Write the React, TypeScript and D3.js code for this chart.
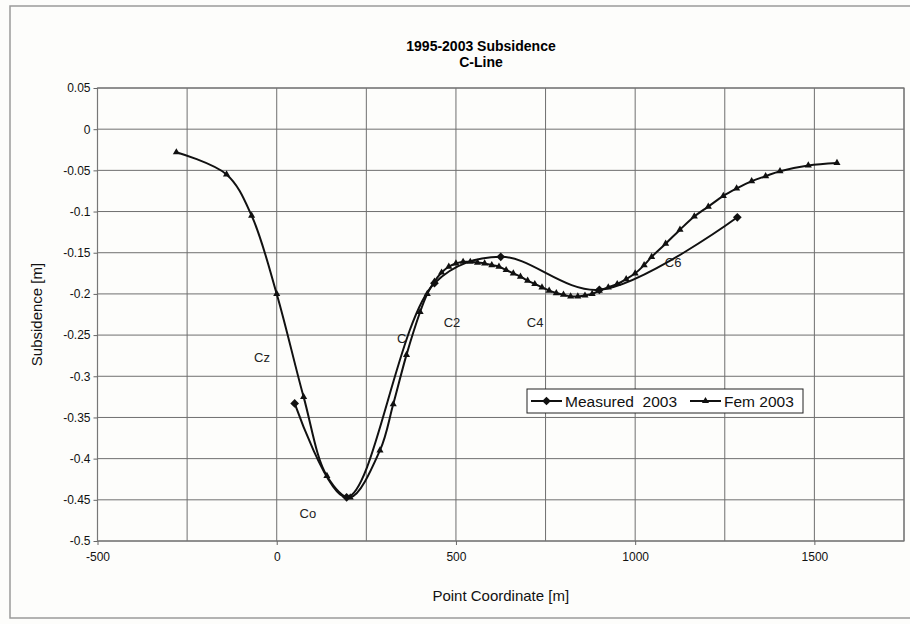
import React from 'react';
import * as d3 from 'd3';

// axis ticks
const xTickValues = [-500, 0, 500, 1000, 1500];
const xGridValues = [-500, -250, 0, 250, 500, 750, 1000, 1250, 1500, 1750];
const yTickValues = [0.05, 0, -0.05, -0.1, -0.15, -0.2, -0.25, -0.3, -0.35, -0.4, -0.45, -0.5];

// Measured 2003 (diamonds)
const measuredX = [50, 195, 440, 625, 900, 1285];
const measuredY = [-0.333, -0.447, -0.187, -0.155, -0.195, -0.107];

// Fem 2003 (triangles)
const femX = [
	-280, -140, -70, 0, 75, 140, 205, 288, 325, 362, 400, 420, 440, 460, 480, 500, 520, 540, 560, 580, 600, 620, 640,
	660, 680, 700, 720, 740, 760, 780, 800, 820, 840, 860, 880, 900, 925, 950, 975, 1000, 1025, 1046, 1085, 1125, 1165,
	1204, 1246, 1283, 1325, 1364, 1404, 1483, 1563,
];
const femY = [
	-0.028, -0.055, -0.105, -0.2, -0.325, -0.421, -0.447, -0.39, -0.334, -0.274, -0.222, -0.2, -0.185, -0.174, -0.167,
	-0.163, -0.161, -0.161, -0.162, -0.163, -0.165, -0.167, -0.171, -0.175, -0.179, -0.184, -0.188, -0.192, -0.196,
	-0.199, -0.201, -0.203, -0.203, -0.202, -0.2, -0.196, -0.192, -0.188, -0.182, -0.175, -0.165, -0.155, -0.139,
	-0.122, -0.106, -0.094, -0.081, -0.072, -0.063, -0.057, -0.051, -0.044, -0.041,
];

// point names written on the chart
const pointNames = ['Cz', 'C', 'C2', 'C4', 'C6', 'Co'];
const pointNameX = [-41, 349, 489, 721, 1106, 87];
const pointNameY = [-0.277, -0.254, -0.235, -0.235, -0.162, -0.466];

const seriesNames = ['Measured  2003', 'Fem 2003'];

class SubsidenceChart extends React.Component<any> {
	node: SVGSVGElement | null = null;
	constructor(props: any) {
		super(props);
		this.drawChart = this.drawChart.bind(this);
	}
	componentDidMount() {
		this.drawChart();
	}
	componentDidUpdate() {
		this.drawChart();
	}
	drawChart() {
		const width = 910;
		const height = 624;
		const plot = { left: 97.5, right: 904, top: 88, bottom: 541 };
		const svg = d3.select(this.node).style('font-family', '"Liberation Sans", Arial, sans-serif');
		svg.selectAll('*').remove();

		const xScale = d3.scaleLinear().domain([-500, 1750]).range([plot.left, plot.right]);
		const yScale = d3.scaleLinear().domain([-0.5, 0.05]).range([plot.bottom, plot.top]);

		svg.append('rect').attr('width', width).attr('height', height).attr('fill', '#fdfdfb');
		// chart frame
		svg
			.append('rect')
			.attr('x', 10)
			.attr('y', 6)
			.attr('width', 910)
			.attr('height', 612)
			.attr('fill', 'none')
			.attr('stroke', '#9a9a9a')
			.attr('stroke-width', 1.5);

		// title
		svg
			.append('text')
			.attr('x', 481)
			.attr('y', 51)
			.attr('text-anchor', 'middle')
			.attr('font-size', 14)
			.attr('font-weight', 'bold')
			.text('1995-2003 Subsidence');
		svg
			.append('text')
			.attr('x', 481)
			.attr('y', 67)
			.attr('text-anchor', 'middle')
			.attr('font-size', 14)
			.attr('font-weight', 'bold')
			.text('C-Line');

		const g = svg.append('g');
		// gridlines
		g.selectAll('.vgrid')
			.data(xGridValues)
			.enter()
			.append('line')
			.attr('x1', d => xScale(d))
			.attr('x2', d => xScale(d))
			.attr('y1', plot.top)
			.attr('y2', plot.bottom)
			.attr('stroke', '#6f6f6f')
			.attr('stroke-width', 1);
		g.selectAll('.hgrid')
			.data(yTickValues)
			.enter()
			.append('line')
			.attr('x1', plot.left)
			.attr('x2', plot.right)
			.attr('y1', d => yScale(d))
			.attr('y2', d => yScale(d))
			.attr('stroke', '#6f6f6f')
			.attr('stroke-width', 1);
		g.append('rect')
			.attr('x', plot.left)
			.attr('y', plot.top)
			.attr('width', plot.right - plot.left)
			.attr('height', plot.bottom - plot.top)
			.attr('fill', 'none')
			.attr('stroke', '#777')
			.attr('stroke-width', 1.2);

		// axes
		const yAxis = d3
			.axisLeft(yScale)
			.tickValues(yTickValues)
			.tickSize(4)
			.tickFormat(d => String(+(+d).toFixed(2)));
		const ya = svg.append('g').attr('transform', `translate(${plot.left},0)`).call(yAxis);
		const xAxis = d3
			.axisBottom(xScale)
			.tickValues(xTickValues)
			.tickSize(4)
			.tickFormat(d => String(d));
		const xa = svg.append('g').attr('transform', `translate(0,${plot.bottom})`).call(xAxis);
		[ya, xa].forEach(a => {
			a.select('.domain').remove();
			a.selectAll('line').attr('stroke', '#666');
			a.selectAll('text').attr('font-size', 12).attr('fill', '#111').attr('font-family', null);
		});
		xa.selectAll('text').attr('dy', '1.1em');

		svg
			.append('text')
			.attr('x', (plot.left + plot.right) / 2)
			.attr('y', 601)
			.attr('text-anchor', 'middle')
			.attr('font-size', 15)
			.attr('fill', '#111')
			.text('Point Coordinate [m]');
		svg
			.append('text')
			.attr('transform', `translate(42,${(plot.top + plot.bottom) / 2}) rotate(-90)`)
			.attr('text-anchor', 'middle')
			.attr('font-size', 15)
			.attr('fill', '#111')
			.text('Subsidence [m]');

		// point names
		g.selectAll('.pname')
			.data(pointNames)
			.enter()
			.append('text')
			.attr('x', (d, i) => xScale(pointNameX[i]))
			.attr('y', (d, i) => yScale(pointNameY[i]))
			.attr('dy', '0.35em')
			.attr('text-anchor', 'middle')
			.attr('font-size', 13)
			.attr('fill', '#222')
			.text(d => d);

		const makeLine = d3
			.line<number>()
			.x(d => d)
			.y(d => d)
			.curve(d3.curveCatmullRom);
		const linePath = d3
			.line<[number, number]>()
			.x(d => xScale(d[0]))
			.y(d => yScale(d[1]))
			.curve(d3.curveCatmullRom);
		void makeLine;

		const measured: [number, number][] = measuredX.map((x, i) => [x, measuredY[i]]);
		const fem: [number, number][] = femX.map((x, i) => [x, femY[i]]);

		const diamond = d3.symbol(d3.symbolSquare, 38)();
		const triangle = d3.symbol(d3.symbolTriangle, 22)();

		[fem, measured].forEach(data => {
			g.append('path')
				.attr('d', linePath(data))
				.attr('fill', 'none')
				.attr('stroke', '#111')
				.attr('stroke-width', 2);
		});
		g.selectAll('.tri')
			.data(fem)
			.enter()
			.append('path')
			.attr('d', triangle)
			.attr('transform', d => `translate(${xScale(d[0])},${yScale(d[1])})`)
			.attr('fill', '#111');
		g.selectAll('.dia')
			.data(measured)
			.enter()
			.append('path')
			.attr('d', diamond)
			.attr('transform', d => `translate(${xScale(d[0])},${yScale(d[1])}) rotate(45)`)
			.attr('fill', '#111');

		// legend
		const legend = svg.append('g').attr('transform', 'translate(527,389)');
		legend
			.append('rect')
			.attr('width', 276)
			.attr('height', 24)
			.attr('fill', '#fff')
			.attr('stroke', '#222')
			.attr('stroke-width', 1);
		const sampleX = [4, 163];
		const textX = [38, 197];
		seriesNames.forEach((name, i) => {
			legend
				.append('line')
				.attr('x1', sampleX[i])
				.attr('x2', sampleX[i] + 31)
				.attr('y1', 12)
				.attr('y2', 12)
				.attr('stroke', '#111')
				.attr('stroke-width', 2);
			legend
				.append('path')
				.attr('d', i === 0 ? diamond : triangle)
				.attr('transform', `translate(${sampleX[i] + 15.5},12)${i === 0 ? ' rotate(45)' : ''}`)
				.attr('fill', '#111');
			legend
				.append('text')
				.attr('x', textX[i])
				.attr('y', 12)
				.attr('dy', '0.36em')
				.attr('font-size', 15.5)
				.attr('fill', '#111')
				.style('white-space', 'pre')
				.text(name);
		});
	}
	render() {
		return (
			<svg
				ref={node => {
					this.node = node;
				}}
				width={910}
				height={624}
				style={{ position: 'absolute', left: 0, top: 0 }}
			/>
		);
	}
}

export default function App() {
	return <SubsidenceChart />;
}
